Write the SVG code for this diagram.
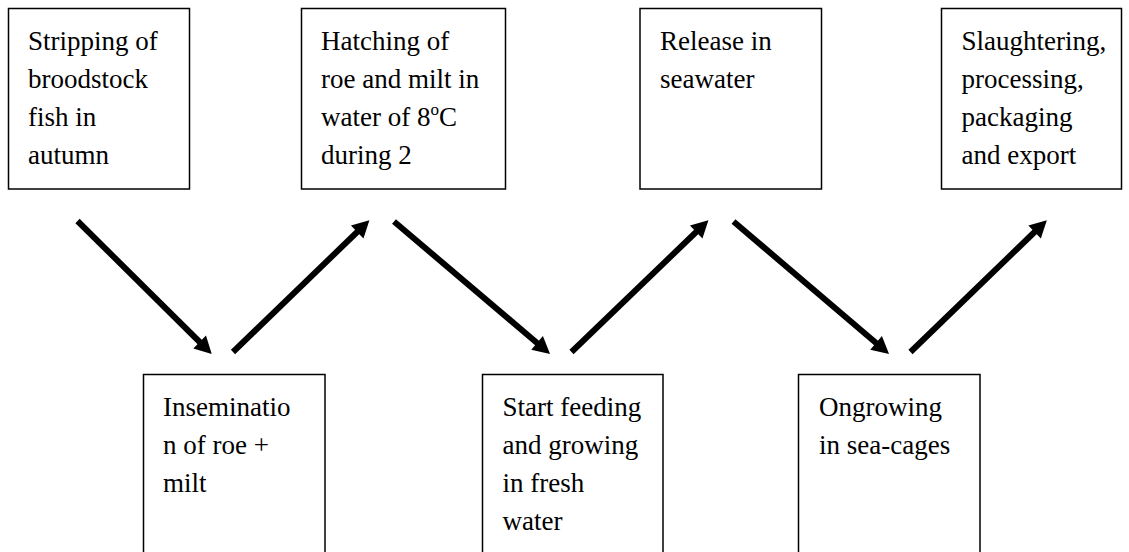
<svg xmlns="http://www.w3.org/2000/svg" width="1129" height="552" viewBox="0 0 1129 552">
<style>
.box{fill:#fff;stroke:#000;stroke-width:1.5}
.t{font-family:"Liberation Serif","Times New Roman",serif;font-size:27px;fill:#000}
.arr{stroke:#000;stroke-width:6;fill:none;marker-end:url(#ah)}
</style>
<defs>
<marker id="ah" markerUnits="userSpaceOnUse" markerWidth="17" markerHeight="18" refX="5" refY="9" orient="auto" overflow="visible">
<path d="M0,0 L17,9 L0,18 z" fill="#000"/>
</marker>
</defs>
<rect width="1129" height="552" fill="#fff"/>
<g id="n1"><rect class="box" x="8.5" y="8.5" width="181" height="180.5"/>
<text class="t" x="28" y="49.5">Stripping of</text><text class="t" x="28" y="87.5">broodstock</text><text class="t" x="28" y="125.5">fish in</text><text class="t" x="28" y="163.5">autumn</text></g>
<g id="n2"><rect class="box" x="301.5" y="8.5" width="204" height="180.5"/>
<text class="t" x="321" y="49.5">Hatching of</text><text class="t" x="321" y="87.5">roe and milt in</text><text class="t" x="321" y="125.5">water of 8<tspan font-size="17" dy="-11">o</tspan><tspan dy="11">C</tspan></text><text class="t" x="321" y="163.5">during 2</text></g>
<g id="n3"><rect class="box" x="640" y="8.5" width="181.5" height="180.5"/>
<text class="t" x="660" y="49.5">Release in</text><text class="t" x="660" y="87.5">seawater</text></g>
<g id="n4"><rect class="box" x="941.5" y="8.5" width="180" height="180.5"/>
<text class="t" x="961.5" y="49.5">Slaughtering,</text><text class="t" x="961.5" y="87.5">processing,</text><text class="t" x="961.5" y="125.5">packaging</text><text class="t" x="961.5" y="163.5">and export</text></g>
<g id="n5"><rect class="box" x="143.5" y="374.5" width="181.5" height="190"/>
<text class="t" x="163" y="416">Inseminatio</text><text class="t" x="163" y="454">n of roe +</text><text class="t" x="163" y="492">milt</text></g>
<g id="n6"><rect class="box" x="482.5" y="374.5" width="180.5" height="190"/>
<text class="t" x="502.5" y="416">Start feeding</text><text class="t" x="502.5" y="454">and growing</text><text class="t" x="502.5" y="492">in fresh</text><text class="t" x="502.5" y="530">water</text></g>
<g id="n7"><rect class="box" x="798.5" y="374.5" width="181.5" height="190"/>
<text class="t" x="819" y="416">Ongrowing</text><text class="t" x="819" y="454">in sea-cages</text></g>
<g id="connectors">
<line class="arr" x1="77.5" y1="221" x2="203.2" y2="345.5"/>
<line class="arr" x1="233" y1="352" x2="360.8" y2="228.5"/>
<line class="arr" x1="394" y1="221.5" x2="540.9" y2="346.2"/>
<line class="arr" x1="571.5" y1="352" x2="699.8" y2="228.5"/>
<line class="arr" x1="733.5" y1="221.5" x2="879.9" y2="346.2"/>
<line class="arr" x1="910.5" y1="352" x2="1038.2" y2="228.5"/>
</g>
</svg>
